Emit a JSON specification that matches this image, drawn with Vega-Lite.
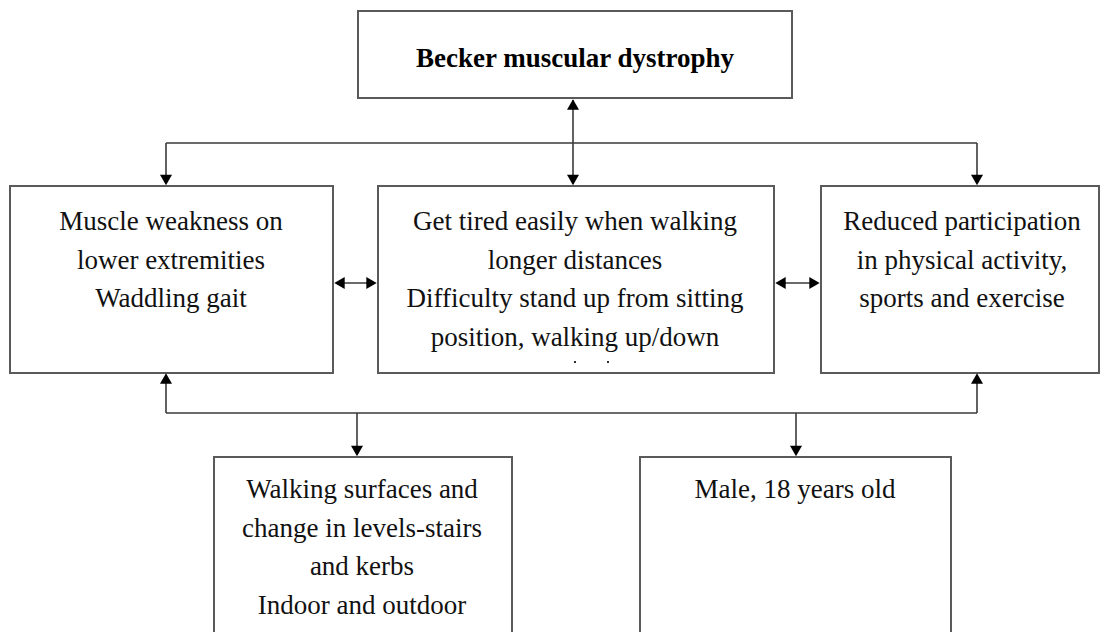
{
  "$schema": "https://vega.github.io/schema/vega-lite/v6.json",
  "width": 1103,
  "height": 632,
  "padding": 0,
  "autosize": {"type": "fit", "contains": "padding"},
  "background": "white",
  "config": {"view": {"stroke": null}},
  "datasets": {
    "boxes": [
      {"x": 358, "x2": 792, "y": 11, "y2": 98},
      {"x": 10, "x2": 333, "y": 186, "y2": 373},
      {"x": 378, "x2": 774, "y": 186, "y2": 373},
      {"x": 821, "x2": 1099, "y": 186, "y2": 373},
      {"x": 214, "x2": 512, "y": 457, "y2": 660},
      {"x": 640, "x2": 951, "y": 457, "y2": 660}
    ],
    "links": [
      {"x": 573, "x2": 573, "y": 100, "y2": 184},
      {"x": 166, "x2": 977, "y": 143, "y2": 143},
      {"x": 166, "x2": 166, "y": 143, "y2": 182},
      {"x": 977, "x2": 977, "y": 143, "y2": 182},
      {"x": 336, "x2": 375, "y": 283, "y2": 283},
      {"x": 777, "x2": 818, "y": 283, "y2": 283},
      {"x": 166, "x2": 977, "y": 413, "y2": 413},
      {"x": 166, "x2": 166, "y": 377, "y2": 413},
      {"x": 977, "x2": 977, "y": 377, "y2": 413},
      {"x": 357, "x2": 357, "y": 413, "y2": 453},
      {"x": 796, "x2": 796, "y": 413, "y2": 453}
    ],
    "heads": [
      {"x": 573, "y": 104.5, "dir": "triangle-up"},
      {"x": 573, "y": 180, "dir": "triangle-down"},
      {"x": 166, "y": 180, "dir": "triangle-down"},
      {"x": 977, "y": 180, "dir": "triangle-down"},
      {"x": 339.5, "y": 283, "dir": "triangle-left"},
      {"x": 371.5, "y": 283, "dir": "triangle-right"},
      {"x": 780.5, "y": 283, "dir": "triangle-left"},
      {"x": 814.5, "y": 283, "dir": "triangle-right"},
      {"x": 166, "y": 378.5, "dir": "triangle-up"},
      {"x": 977, "y": 378.5, "dir": "triangle-up"},
      {"x": 357, "y": 451, "dir": "triangle-down"},
      {"x": 796, "y": 451, "dir": "triangle-down"}
    ],
    "title": [
      {"x": 575, "y": 67, "t": "Becker muscular dystrophy"}
    ],
    "lines": [
      {"x": 171, "y": 230, "t": "Muscle weakness on"},
      {"x": 171, "y": 268.5, "t": "lower extremities"},
      {"x": 171, "y": 307, "t": "Waddling gait"},
      {"x": 575, "y": 230, "t": "Get tired easily when walking"},
      {"x": 575, "y": 268.5, "t": "longer distances"},
      {"x": 575, "y": 307, "t": "Difficulty stand up from sitting"},
      {"x": 575, "y": 345.5, "t": "position, walking up/down"},
      {"x": 962, "y": 230, "t": "Reduced participation"},
      {"x": 962, "y": 268.5, "t": "in physical activity,"},
      {"x": 962, "y": 307, "t": "sports and exercise"},
      {"x": 362, "y": 498, "t": "Walking surfaces and"},
      {"x": 362, "y": 537, "t": "change in levels-stairs"},
      {"x": 362, "y": 575, "t": "and kerbs"},
      {"x": 362, "y": 614, "t": "Indoor and outdoor"},
      {"x": 795, "y": 498, "t": "Male, 18 years old"}
    ],
    "dots": [
      {"x": 575, "y": 362},
      {"x": 608, "y": 362}
    ]
  },
  "encoding": {
    "x": {"field": "x", "type": "quantitative", "scale": {"domain": [0, 1103], "nice": false, "zero": false}, "axis": null},
    "y": {"field": "y", "type": "quantitative", "scale": {"domain": [0, 632], "nice": false, "zero": false, "reverse": true}, "axis": null}
  },
  "layer": [
    {
      "data": {"name": "boxes"},
      "mark": {"type": "rect", "fill": "white", "stroke": "#5a5a5a", "strokeWidth": 2, "clip": true},
      "encoding": {"x2": {"field": "x2"}, "y2": {"field": "y2"}}
    },
    {
      "data": {"name": "links"},
      "mark": {"type": "rule", "stroke": "#3a3a3a", "strokeWidth": 1.6},
      "encoding": {"x2": {"field": "x2"}, "y2": {"field": "y2"}}
    },
    {
      "data": {"name": "heads"},
      "mark": {"type": "point", "filled": true, "color": "#000000", "opacity": 1, "size": 144},
      "encoding": {"shape": {"field": "dir", "type": "nominal", "scale": null, "legend": null}}
    },
    {
      "data": {"name": "title"},
      "mark": {"type": "text", "font": "Liberation Serif", "fontSize": 27, "fontWeight": "bold", "align": "center", "baseline": "alphabetic", "color": "#000000"},
      "encoding": {"text": {"field": "t"}}
    },
    {
      "data": {"name": "lines"},
      "mark": {"type": "text", "font": "Liberation Serif", "fontSize": 27, "align": "center", "baseline": "alphabetic", "color": "#111111"},
      "encoding": {"text": {"field": "t"}}
    },
    {
      "data": {"name": "dots"},
      "mark": {"type": "point", "filled": true, "shape": "circle", "size": 5, "color": "#000000", "opacity": 1}
    }
  ]
}
